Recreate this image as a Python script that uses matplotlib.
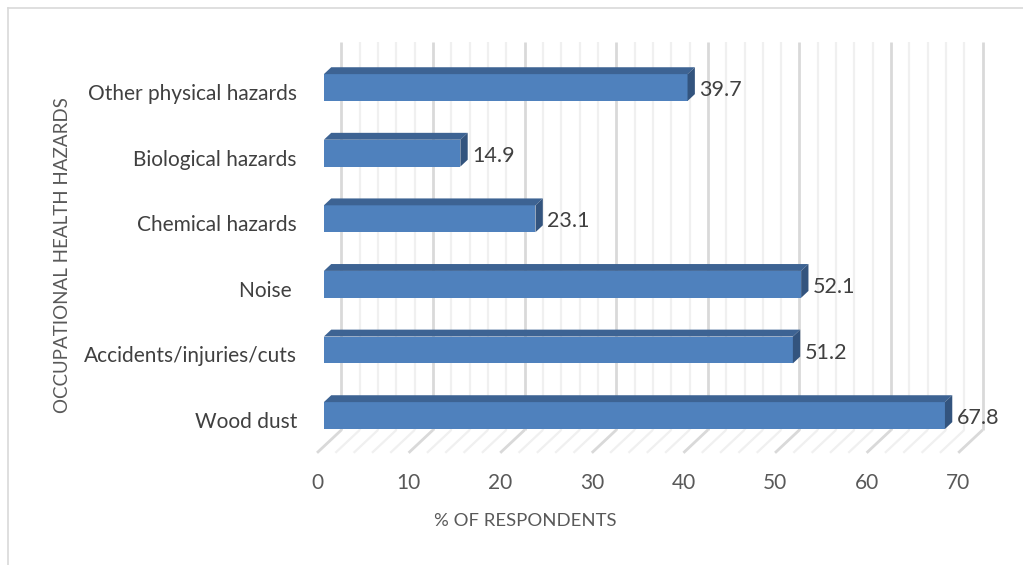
import matplotlib
matplotlib.use("Agg")
import matplotlib.pyplot as plt
from matplotlib.patches import Polygon

plt.rcParams['font.family'] = ['Lato', 'DejaVu Sans']

# data
categories = ['Wood dust', 'Accidents/injuries/cuts', 'Noise ', 'Chemical hazards',
              'Biological hazards', 'Other physical hazards']
values = [67.8, 51.2, 52.1, 23.1, 14.9, 39.7]
ticks = [0, 10, 20, 30, 40, 50, 60, 70]
xlabel = '% OF RESPONDENTS'
ylabel = 'OCCUPATIONAL HEALTH HAZARDS'

# depth of the 3d box (in data units) and bar placement inside it
DX, DY = 2.67, 0.35
d0, d1 = 0.28, 0.58
bh = 0.41
floor = -0.47
top = 5.44
xmax = 70

front = '#4F81BD'
topc = '#3D6393'
side = '#33547E'
major = '#d9d9d9'
minor = '#f0f0f0'

fig = plt.figure(figsize=(10.23, 5.65), dpi=100)
ax = fig.add_axes([0, 0, 1, 1])
ax.set_xlim(-34.61, 77.07)
ax.set_ylim(-2.18, 6.433)
ax.axis('off')

# walls: back gridlines + floor diagonals
for v in range(0, xmax + 1, 2):
    c = major if v % 10 == 0 else minor
    lw = 2.0 if v % 10 == 0 else 1.6
    ax.plot([v + DX, v + DX], [floor + DY, top + DY], color=c, lw=lw, zorder=1,
            solid_capstyle='butt')
    ax.plot([v, v + DX], [floor, floor + DY], color=c, lw=lw, zorder=1,
            solid_capstyle='butt')

# bars
for k, v in enumerate(values):
    y0 = k - bh / 2
    ox0, oy0 = d0 * DX, d0 * DY
    ox1, oy1 = d1 * DX, d1 * DY
    ax.add_patch(Polygon([(ox0, y0 + oy0), (v + ox0, y0 + oy0),
                          (v + ox0, y0 + bh + oy0), (ox0, y0 + bh + oy0)],
                         closed=True, fc=front, ec='none', zorder=3))
    ax.add_patch(Polygon([(ox0, y0 + bh + oy0), (v + ox0, y0 + bh + oy0),
                          (v + ox1, y0 + bh + oy1), (ox1, y0 + bh + oy1)],
                         closed=True, fc=topc, ec='none', zorder=3))
    ax.add_patch(Polygon([(v + ox0, y0 + oy0), (v + ox1, y0 + oy1),
                          (v + ox1, y0 + bh + oy1), (v + ox0, y0 + bh + oy0)],
                         closed=True, fc=side, ec='none', zorder=3))
    ax.text(v + ox1 + 0.45, k + oy0 - 0.04, f'{v:.1f}', ha='left', va='center',
            fontsize=15.5, color='#404040', zorder=4)
    ax.text(-2.2, k, categories[k], ha='right', va='center', fontsize=15,
            color='#404040')

for t in ticks:
    ax.text(t, -0.93, str(t), ha='center', va='center', fontsize=15, color='#595959')

ax.text(22.7, -1.51, xlabel, ha='center', va='center', fontsize=13.3, color='#595959')
ax.text(-27.8, 2.55, ylabel, ha='center', va='center', rotation=90, fontsize=13.5,
        color='#595959')

# outer chart border (top and left visible)
fig.add_artist(plt.Line2D([8 / 1023, 8 / 1023], [0, 1 - 8 / 565], color='#d9d9d9',
                          lw=1.2, transform=fig.transFigure))
fig.add_artist(plt.Line2D([8 / 1023, 1], [1 - 8 / 565, 1 - 8 / 565], color='#d9d9d9',
                          lw=1.2, transform=fig.transFigure))

fig.savefig('out.png', dpi=100, facecolor='white')
